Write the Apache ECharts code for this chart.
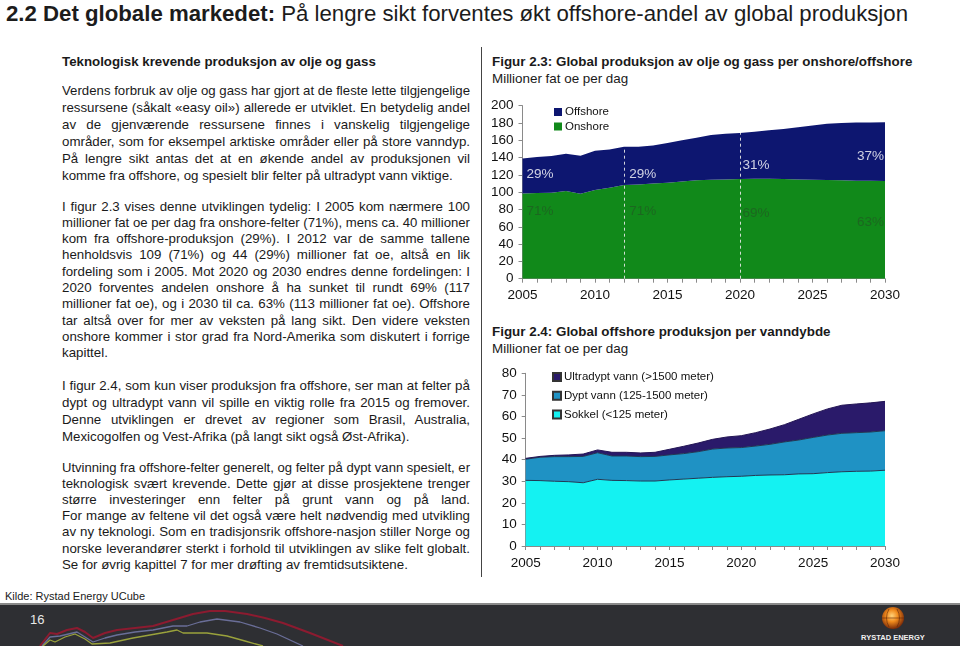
<!DOCTYPE html>
<html>
<head>
<meta charset="utf-8">
<script src="https://cdn.jsdelivr.net/npm/echarts/dist/echarts.min.js"></script>
<style>
html,body{margin:0;padding:0;}
body{width:960px;height:646px;overflow:hidden;background:#fff;position:relative;font-family:"Liberation Sans",Arial,sans-serif;color:#1a1a1a;}
#title{position:absolute;left:6px;top:1px;font-size:22px;line-height:26px;white-space:nowrap;transform-origin:0 0;font-family:"Liberation Sans Narrow","Liberation Sans",Arial,sans-serif;color:#1c1c1c;}
#title b{font-weight:bold;}
.col{position:absolute;left:62px;width:408px;font-size:13.3px;}
.ln{position:absolute;left:0;white-space:nowrap;height:17px;line-height:17px;}
.hd{position:absolute;left:492px;white-space:nowrap;font-size:13.4px;line-height:17px;}
#sep{position:absolute;left:481px;top:47px;width:1px;height:530px;background:#444;}
#kilde{position:absolute;left:5px;top:589px;font-size:11px;line-height:14px;white-space:nowrap;}
#rule{position:absolute;left:0;top:603px;width:960px;height:2px;background:#8a8a8a;}
#foot{position:absolute;left:0;top:605px;width:960px;height:41px;background:#2e2f33;}
#pg{position:absolute;left:30px;top:612px;font-size:13px;color:#e8e8e8;}
#chart{position:absolute;left:0;top:0;width:960px;height:646px;}
</style>
</head>
<body>
<div id="title"><b>2.2 Det globale markedet:</b> På lengre sikt forventes økt offshore-andel av global produksjon</div>
<div id="text"></div>
<div id="sep"></div>
<div class="hd" style="top:53px;font-weight:bold">Figur 2.3: Global produksjon av olje og gass per onshore/offshore</div>
<div class="hd" style="top:70px">Millioner fat oe per dag</div>
<div class="hd" style="top:323px;font-weight:bold">Figur 2.4: Global offshore produksjon per vanndybde</div>
<div class="hd" style="top:340px">Millioner fat oe per dag</div>
<div id="kilde">Kilde: Rystad Energy UCube</div>
<div id="rule"></div>
<div id="foot"></div>
<svg style="position:absolute;left:0;top:0" width="960" height="646">
  <defs>
    <radialGradient id="g1" cx="45%" cy="40%" r="60%">
      <stop offset="0" stop-color="#ffd27a"/>
      <stop offset="0.45" stop-color="#f08a1c"/>
      <stop offset="1" stop-color="#7a2a08"/>
    </radialGradient>
  </defs>
  <polyline fill="none" stroke="#8c1b30" stroke-width="2" stroke-linejoin="round" points="40,646 50,633 57,634 67,630 77,628 85,632 93,638 105,633 117,630 135,628 153,626 173,620 193,614 210,611 225,611 247,614 265,618 283,623 310,633 343,646"/>
  <polyline fill="none" stroke="#6a6e98" stroke-width="1.3" stroke-linejoin="round" points="42,646 50,637 60,636 77,632 85,637 93,642 105,638 117,635 135,632 153,630 173,626 187,626 200,622 217,619 240,622 260,628 277,634 303,646"/>
  <polyline fill="none" stroke="#9aa23c" stroke-width="1.3" stroke-linejoin="round" points="43,646 50,640 55,642 65,637 75,634 85,639 92,644 110,643 133,638 150,635 167,632 177,630 183,633 207,633 227,636 245,641 263,646"/>
  <circle cx="893" cy="618" r="11" fill="url(#g1)"/>
  <path d="M889,609 q-5,9 0,18 M897,609 q5,9 0,18 M882,618 h22" stroke="#5a2208" stroke-width="0.8" fill="none" opacity="0.7"/>
  <text x="893" y="640" text-anchor="middle" font-family="Liberation Sans Narrow, Liberation Sans, Arial" font-size="7.5" font-weight="bold" fill="#f0f0f0">RYSTAD ENERGY</text>
</svg>
<div id="pg">16</div>
<div id="chart"></div>
<script>
// ---------- Figure 2.3 data ----------
const years = ['2005','2006','2007','2008','2009','2010','2011','2012','2013','2014','2015','2016','2017','2018','2019','2020','2021','2022','2023','2024','2025','2026','2027','2028','2029','2030'];
const onshore  = [98.5,99.0,99.4,101.3,98.3,102.5,105.2,108.3,109.0,110.2,111.0,112.5,113.7,114.5,114.8,115.2,115.6,115.6,115.2,114.8,114.5,114.0,113.7,113.3,113.3,113.0];
const offshore = [40.5,41.6,42.4,43.2,43.7,45.5,44.3,44.3,43.6,43.8,46.0,47.5,49.3,51.5,52.8,53.2,54.4,55.9,57.8,60.2,62.5,65.0,66.3,67.4,67.4,68.0];
const markYears = ['2012','2020'];
const offShareLabels = ['29%','29%','31%','37%'];
const onShareLabels  = ['71%','71%','69%','63%'];
const offShareAt = [[2006.2,120.6],[2013.3,120.6],[2021.1,131.4],[2029.0,141.0]];
const onShareAt  = [[2006.2,78.0],[2013.3,78.0],[2021.1,75.5],[2029.0,65.0]];

// ---------- Figure 2.4 data ----------
const sokkel = [30.4,30.3,30.0,29.8,29.3,30.9,30.4,30.3,30.1,30.1,30.6,31.0,31.4,31.8,32.1,32.3,32.7,32.9,33.0,33.4,33.5,34.0,34.4,34.6,34.7,35.1];
const dypt   = [9.8,10.8,11.4,11.6,12.2,12.3,11.3,11.4,11.3,11.4,11.6,11.8,12.3,13.1,13.3,13.3,13.6,14.2,15.2,15.7,16.8,17.4,17.8,17.9,18.1,18.3];
const ultra  = [0.4,0.4,0.6,0.8,1.1,1.3,1.7,1.7,1.7,1.9,2.6,3.4,4.0,4.5,5.1,5.5,6.2,7.1,8.0,9.6,10.9,12.1,13.0,13.3,13.5,13.6];

// ---------- left text ----------
const paragraphs = [
 {top:52.5, lh:17, bold:true, lines:['Teknologisk krevende produksjon av olje og gass']},
 {top:81.5, lh:17, lines:[
  'Verdens forbruk av olje og gass har gjort at de fleste lette tilgjengelige',
  'ressursene (såkalt «easy oil») allerede er utviklet. En betydelig andel',
  'av de gjenværende ressursene finnes i vanskelig tilgjengelige',
  'områder, som for eksempel arktiske områder eller på store vanndyp.',
  'På lengre sikt antas det at en økende andel av produksjonen vil',
  'komme fra offshore, og spesielt blir felter på ultradypt vann viktige.']},
 {top:197.5, lh:16.3, lines:[
  'I figur 2.3 vises denne utviklingen tydelig: I 2005 kom nærmere 100',
  'millioner fat oe per dag fra onshore-felter (71%), mens ca. 40 millioner',
  'kom fra offshore-produksjon (29%). I 2012 var de samme tallene',
  'henholdsvis 109 (71%) og 44 (29%) millioner fat oe, altså en lik',
  'fordeling som i 2005. Mot 2020 og 2030 endres denne fordelingen: I',
  '2020 forventes andelen onshore å ha sunket til rundt 69% (117',
  'millioner fat oe), og i 2030 til ca. 63% (113 millioner fat oe). Offshore',
  'tar altså over for mer av veksten på lang sikt. Den videre veksten',
  'onshore kommer i stor grad fra Nord-Amerika som diskutert i forrige',
  'kapittel.']},
 {top:376.5, lh:17, lines:[
  'I figur 2.4, som kun viser produksjon  fra offshore, ser man at felter på',
  'dypt og ultradypt vann vil spille en viktig rolle fra 2015 og fremover.',
  'Denne utviklingen er drevet av regioner som Brasil, Australia,',
  'Mexicogolfen og Vest-Afrika (på langt sikt også Øst-Afrika).']},
 {top:458.5, lh:16.2, lines:[
  'Utvinning fra offshore-felter generelt, og felter på dypt vann spesielt, er',
  'teknologisk svært krevende. Dette gjør at disse prosjektene trenger',
  'større investeringer enn felter på grunt vann og på land.',
  'For mange av feltene vil det også være helt nødvendig med utvikling',
  'av ny teknologi. Som en tradisjonsrik offshore-nasjon stiller Norge og',
  'norske leverandører sterkt i forhold til utviklingen av slike felt globalt.',
  'Se for øvrig kapittel 7 for mer drøfting av fremtidsutsiktene.']}
];
const COLW = 408;
const textDiv = document.getElementById('text');
paragraphs.forEach(p => {
  p.lines.forEach((t, i) => {
    const d = document.createElement('div');
    d.className = 'col ln';
    d.style.left = '62px';
    d.style.top = (p.top + i * p.lh) + 'px';
    if (p.bold) d.style.fontWeight = 'bold';
    const s = document.createElement('span');
    s.textContent = t;
    d.appendChild(s);
    textDiv.appendChild(d);
    const last = (i === p.lines.length - 1);
    if (!last) {
      const w = s.getBoundingClientRect().width;
      const spaces = (t.match(/ /g) || []).length;
      if (w < COLW && spaces > 0) {
        s.style.wordSpacing = ((COLW - w) / spaces) + 'px';
      } else if (w > COLW) {
        s.style.display = 'inline-block';
        s.style.transformOrigin = '0 0';
        s.style.transform = 'scaleX(' + (COLW / w) + ')';
      }
    }
  });
});
(function(){
  const t = document.getElementById('title');
  const w = t.getBoundingClientRect().width;
  t.style.transform = 'scaleX(' + (902 / w) + ')';
})();

// ---------- chart ----------
const FONT = '"Liberation Sans", Arial, sans-serif';
const totals = years.map((y, i) => onshore[i] + offshore[i]);
const AX = '#8a8a8a';

function xCat(gi) {
  return {
    gridIndex: gi, type: 'category', data: years, boundaryGap: false,
    axisLine: {show: true, lineStyle: {color: AX, width: 1}},
    axisTick: {show: true, length: 4, interval: 0, lineStyle: {color: AX}},
    splitLine: {show: false},
    axisLabel: {color: '#111', fontSize: 13.5, fontFamily: FONT, margin: 10, interval: 4}
  };
}
function yAxisCfg(gi, max, interval) {
  return {
    gridIndex: gi, type: 'value', min: 0, max: max, interval: interval,
    axisLine: {show: true, lineStyle: {color: AX, width: 1}},
    axisTick: {show: true, length: 4, lineStyle: {color: AX}},
    splitLine: {show: false},
    axisLabel: {color: '#111', fontSize: 13.5, fontFamily: FONT, margin: 9}
  };
}
function labelSeries(points, labels, color) {
  return {
    type: 'scatter', xAxisIndex: 2, yAxisIndex: 0, symbolSize: 2, silent: true,
    itemStyle: {color: 'rgba(0,0,0,0)'}, z: 10,
    data: points.map((p, i) => ({value: [p[0], p[1]], name: labels[i]})),
    label: {show: true, position: 'inside', formatter: p => p.name, color: color, fontSize: 13.5, fontFamily: FONT}
  };
}

const chart = echarts.init(document.getElementById('chart'), null, {renderer: 'canvas'});
chart.setOption({
  backgroundColor: 'transparent',
  animation: false,
  grid: [
    {left: 522.5, top: 105.7, width: 362.5, height: 173},
    {left: 525.7, top: 373.3, width: 359.3, height: 172.7}
  ],
  legend: [
    {data: ['Offshore', 'Onshore'], orient: 'vertical', left: 549, top: 101, itemWidth: 8, itemHeight: 8, itemGap: 2.5,
     icon: 'rect', selectedMode: false, textStyle: {fontSize: 11.5, color: '#111', fontFamily: FONT, padding: [0, 0, 0, -2]}},
    {data: ['Ultradypt vann (>1500 meter)', 'Dypt vann (125-1500 meter)', 'Sokkel (<125 meter)'], orient: 'vertical', left: 547, top: 366,
     itemWidth: 8, itemHeight: 8, itemGap: 6.8, icon: 'rect', selectedMode: false,
     textStyle: {fontSize: 11.5, color: '#111', fontFamily: FONT, padding: [0, 0, 0, -2]}}
  ],
  xAxis: [xCat(0), xCat(1),
    {gridIndex: 0, type: 'value', min: 2005, max: 2030, show: false}],
  yAxis: [yAxisCfg(0, 200, 20), yAxisCfg(1, 80, 10)],
  series: [
    {name: 'Onshore', type: 'line', stack: 'a', xAxisIndex: 0, yAxisIndex: 0, symbol: 'none', silent: true,
     data: onshore, color: '#11891a', lineStyle: {width: 0}, areaStyle: {color: '#11891a', opacity: 1}},
    {name: 'Offshore', type: 'line', stack: 'a', xAxisIndex: 0, yAxisIndex: 0, symbol: 'none', silent: true,
     data: offshore, color: '#0d1670', lineStyle: {width: 0}, areaStyle: {color: '#0d1670', opacity: 1},
     markLine: {silent: true, symbol: 'none', label: {show: false},
       lineStyle: {color: '#e8e8e8', type: [3, 3], width: 1, opacity: 0.9},
       data: markYears.map(y => [{coord: [y, 0]}, {coord: [y, totals[years.indexOf(y)]]}])}},
    labelSeries(offShareAt, offShareLabels, '#ffffff'),
    labelSeries(onShareAt, onShareLabels, '#1f5f22'),
    {name: 'Sokkel (<125 meter)', type: 'line', stack: 'b', xAxisIndex: 1, yAxisIndex: 1, symbol: 'none', silent: true,
     data: sokkel, color: '#14f2f2', lineStyle: {width: 1, color: '#1e3a55'}, areaStyle: {color: '#14f2f2', opacity: 1},
     itemStyle: {color: '#14f2f2', borderColor: '#333', borderWidth: 1}},
    {name: 'Dypt vann (125-1500 meter)', type: 'line', stack: 'b', xAxisIndex: 1, yAxisIndex: 1, symbol: 'none', silent: true,
     data: dypt, color: '#1f92c4', lineStyle: {width: 1, color: '#1e3a55'}, areaStyle: {color: '#1f92c4', opacity: 1},
     itemStyle: {color: '#1f92c4', borderColor: '#333', borderWidth: 1}},
    {name: 'Ultradypt vann (>1500 meter)', type: 'line', stack: 'b', xAxisIndex: 1, yAxisIndex: 1, symbol: 'none', silent: true,
     data: ultra, color: '#2a1a6a', lineStyle: {width: 1, color: '#241655'}, areaStyle: {color: '#2a1a6a', opacity: 1},
     itemStyle: {color: '#2a1a6a', borderColor: '#333', borderWidth: 1}}
  ]
});
</script>
</body>
</html>
